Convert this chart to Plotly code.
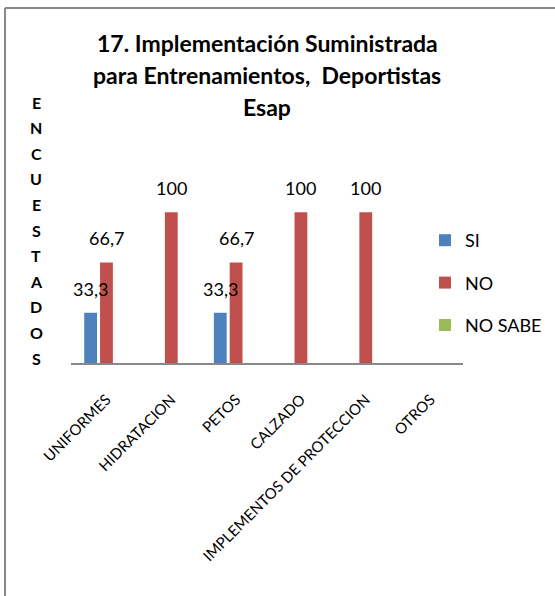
import plotly.graph_objects as go

# chart data
categories = ["UNIFORMES", "HIDRATACION", "PETOS", "CALZADO",
              "IMPLEMENTOS DE PROTECCION", "OTROS"]
series_names = ["SI", "NO", "NO SABE"]
si_values = [33.3, 0, 33.3, 0, 0, 0]
no_values = [66.7, 100, 66.7, 100, 100, 0]
nosabe_values = [0, 0, 0, 0, 0, 0]
title_lines = ["17. Implementación Suministrada",
               "para Entrenamientos,  Deportistas",
               "Esap"]
axis_letters = list("ENCUESTADOS")

colors = ["#4F81BD", "#C0504D", "#9BBB59"]
FONT = "Lato"

W, H = 555, 596
ML, MR, MT, MB = 71, 92, 182, 233
PW = W - ML - MR
PH = H - MT - MB


def px(x):
    return (x - ML) / PW


def py(y):
    return (H - MB - y) / PH


def fmt(v):
    s = ("%.1f" % v).rstrip("0").rstrip(".")
    return s.replace(".", ",")


fig = go.Figure()
all_values = [si_values, no_values, nosabe_values]
for i, (name, vals) in enumerate(zip(series_names, all_values)):
    fig.add_trace(go.Bar(x=categories, y=vals, name=name,
                         marker=dict(color=colors[i], line=dict(width=0)),
                         legendgroup=name, hoverinfo="x+y"))

# value labels above bars
bargap, bargroupgap = 0.267, 0.19
slot = PW / len(categories) * (1 - bargap) / 3
annotations = []
for i, vals in enumerate(all_values):
    for c, v in zip(categories, vals):
        if v > 0:
            annotations.append(dict(x=c, y=v, xref="x", yref="y", text=fmt(v),
                                    showarrow=False, xshift=(i - 1) * slot,
                                    yshift=24,
                                    font=dict(family=FONT, size=18, color="black")))

# title lines
for k, line in enumerate(title_lines):
    annotations.append(dict(x=px(267), y=py(43 + k * 32), xref="paper", yref="paper",
                            text="<b>" + line + "</b>", showarrow=False,
                            xanchor="center", yanchor="middle",
                            font=dict(family=FONT, size=23, color="black")))

# stacked axis title
for k, ch in enumerate(axis_letters):
    annotations.append(dict(x=px(36), y=py(102 + k * 25.6), xref="paper", yref="paper",
                            text="<b>" + ch + "</b>", showarrow=False,
                            xanchor="center", yanchor="middle",
                            font=dict(family=FONT, size=16, color="black")))

# chart frame (left and top edges visible in the crop)
frame = dict(color="#888888", width=2)
shapes = [
    dict(type="line", xref="paper", yref="paper",
         x0=px(5), y0=py(8), x1=px(5), y1=py(596), line=frame),
    dict(type="line", xref="paper", yref="paper",
         x0=px(5), y0=py(8), x1=px(555), y1=py(8), line=frame),
]

fig.update_layout(
    width=W, height=H,
    margin=dict(l=ML, r=MR, t=MT, b=MB, pad=0, autoexpand=False),
    paper_bgcolor="white", plot_bgcolor="white",
    barmode="group", bargap=bargap, bargroupgap=bargroupgap,
    font=dict(family=FONT, color="black"),
    showlegend=True,
    legend=dict(x=px(425), y=py(222), xanchor="left", yanchor="top",
                traceorder="grouped", tracegroupgap=16,
                font=dict(family=FONT, size=18, color="black"),
                bgcolor="rgba(0,0,0,0)", itemwidth=30),
    annotations=annotations,
    shapes=shapes,
)
fig.update_xaxes(showline=True, linecolor="#888888", linewidth=2, ticks="",
                 tickangle=-45, ticklabelstandoff=20,
                 tickfont=dict(family=FONT, size=15, color="black"),
                 showgrid=False)
fig.update_yaxes(range=[0, 120], showline=False, showticklabels=False,
                 showgrid=False, zeroline=False)

fig.write_html("out.html", config={"displayModeBar": False},
               post_script="document.body.style.margin='0';document.body.style.overflow='hidden';")
